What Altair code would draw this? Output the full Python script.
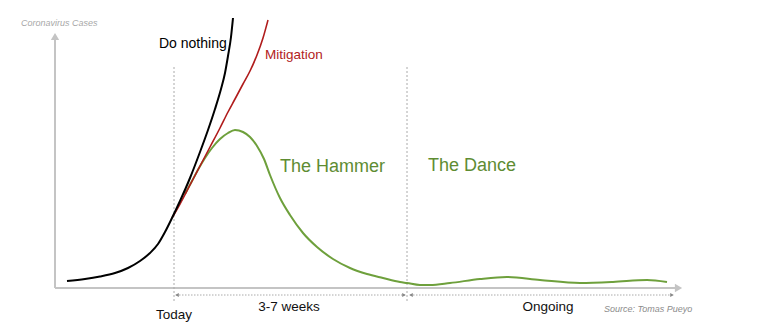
import altair as alt
import pandas as pd

# ---- curve data (t = horizontal position along time, cases = height above the axis) ----
black_t = [67, 85, 100, 115, 128, 140, 150, 158, 165, 172, 180, 190, 200, 208, 215, 221, 225, 228, 231, 233]
black_cases = [7, 9, 11.5, 15, 20, 27, 35, 44, 56, 70, 87, 110, 136, 158, 179, 199, 215, 232, 251, 270]

red_t = [172, 180, 190, 200, 210, 220, 228, 235, 243, 250, 257, 263, 268]
red_cases = [70, 84, 103, 122, 141, 160, 176, 189, 204, 217, 233, 250, 268]

green_t = [185, 192, 199, 205, 212, 220, 228, 235, 243, 250, 257, 264, 270, 280, 290, 303, 317, 333,
           350, 367, 383, 400, 407, 420, 430, 450, 480, 507, 540, 580, 613, 647, 667]
green_cases = [94, 107, 120, 130, 140, 149, 155, 158, 156, 151, 142, 129, 113, 90, 73, 55, 41, 29,
               20, 14, 10, 6, 5, 3, 3, 5, 9, 11, 8, 5, 6, 8, 6]

# ---- milestones ----
today_t = 174
dance_start_t = 407
ongoing_end_t = 673

# ---- labels ----
series_labels = ["Do nothing", "Mitigation", "The Hammer", "The Dance"]
span_labels = ["Today", "3-7 weeks", "Ongoing"]
y_title = "Coronavirus Cases"
source = "Source: Tomas Pueyo"

FONT = "Liberation Sans"
xs = alt.Scale(domain=[0, 760], nice=False, zero=False)
ys = alt.Scale(domain=[-47, 288], nice=False, zero=False)
X = lambda f: alt.X(f, type="quantitative", scale=xs, axis=None)
Y = lambda f: alt.Y(f, type="quantitative", scale=ys, axis=None)


def curve(t, c, color, width):
    df = pd.DataFrame({"t": t, "cases": c})
    return alt.Chart(df).mark_line(color=color, strokeWidth=width, interpolate="monotone").encode(
        x=X("t"), y=Y("cases"))


def rules(rows, color, width, dash=None):
    df = pd.DataFrame(rows, columns=["t", "t2", "c", "c2"])
    kw = dict(color=color, strokeWidth=width)
    if dash:
        kw["strokeDash"] = dash
    return alt.Chart(df).mark_rule(**kw).encode(x=X("t"), x2="t2:Q", y=Y("c"), y2="c2:Q")


def points(rows, shape, size, color):
    df = pd.DataFrame(rows, columns=["t", "c"])
    return alt.Chart(df).mark_point(shape=shape, size=size, filled=True, opacity=1,
                                    color=color, strokeWidth=0).encode(x=X("t"), y=Y("c"))


def texts(rows, size, color, align, style="normal"):
    df = pd.DataFrame(rows, columns=["label", "t", "c"])
    return alt.Chart(df).mark_text(font=FONT, fontSize=size, color=color, align=align,
                                   baseline="middle", fontStyle=style).encode(
        x=X("t"), y=Y("c"), text="label:N")


axis_gray = "#c4c4c4"
layers = [
    # axes
    rules([[55, 55, 0, 251], [55, 678, 0, 0]], axis_gray, 2),
    points([[55, 251.5]], "triangle-up", 70, axis_gray),
    points([[678.5, 0]], "triangle-right", 70, axis_gray),
    # milestone guides
    rules([[today_t, today_t, 221, -14], [dance_start_t, dance_start_t, 221, -14]], "#aaaaaa", 1, [2, 2]),
    rules([[today_t + 2, dance_start_t - 2, -7, -7], [dance_start_t + 3, ongoing_end_t, -7, -7]],
          "#aaaaaa", 1, [1.5, 1.5]),
    points([[today_t + 3, -7], [dance_start_t + 4, -7]], "triangle-left", 18, "#888888"),
    points([[dance_start_t - 3, -7], [ongoing_end_t - 1, -7]], "triangle-right", 18, "#888888"),
    # curves
    curve(green_t, green_cases, "#6ea03c", 2),
    curve(red_t, red_cases, "#b01c1c", 1.6),
    curve(black_t, black_cases, "#000000", 2),
    # text
    texts([[y_title, 21, 265]], 9, "#a8a8a8", "left", "italic"),
    texts([[source, 604, -21]], 9, "#8c8c8c", "left", "italic"),
    texts([[series_labels[0], 159, 244]], 14, "#000000", "left"),
    texts([[series_labels[1], 265, 233]], 13.5, "#b22222", "left"),
    texts([[series_labels[2], 280, 121], [series_labels[3], 428, 122]], 18, "#5e8c32", "left"),
    texts([[span_labels[0], 174, -27], [span_labels[1], 289, -19], [span_labels[2], 548, -19]],
          13.5, "#111111", "center"),
]

chart = alt.layer(*layers).properties(
    width=760, height=335, padding=0, autosize="none", background="white"
).configure_view(stroke=None)

chart.save("out.html", embed_options={"renderer": "svg", "actions": False})
